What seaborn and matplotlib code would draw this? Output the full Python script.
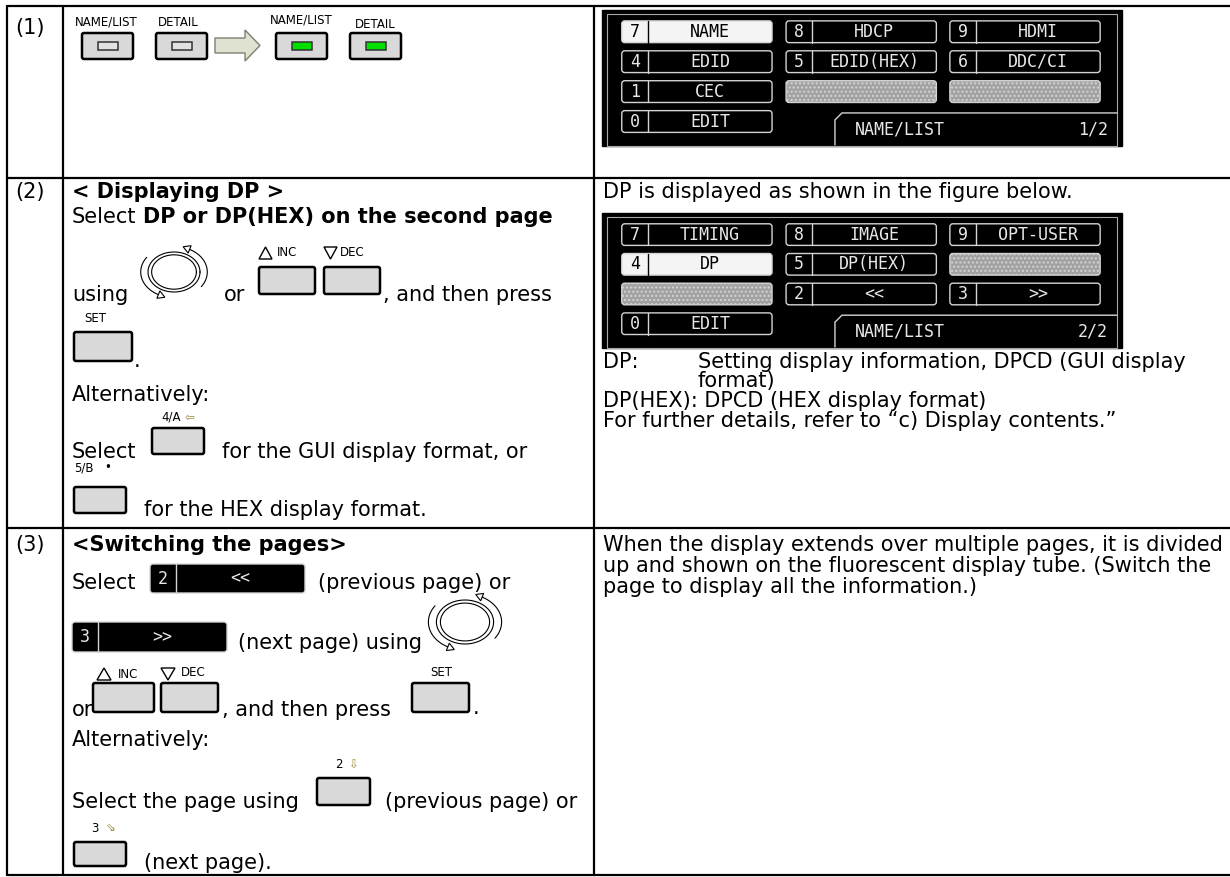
import numpy as np
import matplotlib.pyplot as plt
import seaborn as sns
from matplotlib.patches import Rectangle, FancyBboxPatch, Polygon

sns.set_theme(style="white")
plt.rcParams['font.family'] = ['DejaVu Sans']

# ---- contents ----
row_numbers = ["(1)", "(2)", "(3)"]
key_labels_before = ["NAME/LIST", "DETAIL"]
key_labels_after = ["NAME/LIST", "DETAIL"]
led_off, led_on = "#e2e2e2", "#00e000"

panel1_cells = [[("7", "NAME"), ("8", "HDCP"), ("9", "HDMI")],
                [("4", "EDID"), ("5", "EDID(HEX)"), ("6", "DDC/CI")],
                [("1", "CEC"), None, None],
                [("0", "EDIT")]]
panel1_tab = ["NAME/LIST", "1/2"]
panel1_sel = (0, 0)

panel2_cells = [[("7", "TIMING"), ("8", "IMAGE"), ("9", "OPT-USER")],
                [("4", "DP"), ("5", "DP(HEX)"), None],
                [None, ("2", "<<"), ("3", ">>")],
                [("0", "EDIT")]]
panel2_tab = ["NAME/LIST", "2/2"]
panel2_sel = (1, 0)

row2_right = ["DP is displayed as shown in the figure below.",
              "DP:", "Setting display information, DPCD (GUI display", "format)",
              "DP(HEX): DPCD (HEX display format)",
              "For further details, refer to \u201cc) Display contents.\u201d"]
row3_right = ["When the display extends over multiple pages, it is divided",
              "up and shown on the fluorescent display tube. (Switch the",
              "page to display all the information.)"]

BODY = 15
SMALL = 8.5
LCD = 12

fig = plt.figure(figsize=(12.3, 8.77), dpi=100)
ax = fig.add_axes([0, 0, 1, 1])
ax.set_xlim(0, 1230)
ax.set_ylim(877, 0)
ax.axis('off')
renderer = fig.canvas.get_renderer()


def say(x, y, s, size=BODY, weight='normal', ha='left', color='black', family=None):
    kw = {}
    if family:
        kw['family'] = family
    return ax.text(x, y, s, fontsize=size, fontweight=weight, ha=ha, va='center',
                   color=color, **kw)


def chain(x, y, parts, size=BODY):
    space = 0.318 * size * 100 / 72
    for s, w in parts:
        t = say(x, y, s, size, w)
        x = t.get_window_extent(renderer).x1 + space


def key(x, y, w=52, h=27):
    ax.add_patch(FancyBboxPatch((x, y), w, h, boxstyle='round,pad=0,rounding_size=2',
                                fc='#d9d9d9', ec='black', lw=1.8))


def led(cx, cy, c):
    ax.add_patch(Rectangle((cx - 10, cy - 4), 20, 8, fc=c, ec='#333333', lw=1.1))


def knob(cx, cy, r, sx=1.3):
    t = np.linspace(0, 2 * np.pi, 200)
    for k in (1.0, 0.86):
        ax.plot(cx + sx * r * k * np.cos(t), cy - r * k * np.sin(t), color='black', lw=0.8)
    R = 1.28 * r
    for a0, a1 in ((-35, 62), (145, 242)):
        tt = np.radians(np.linspace(a0, a1, 60))
        ax.plot(cx + sx * R * np.cos(tt), cy - R * np.sin(tt), color='black', lw=0.8)
        e = np.radians(a1)
        px, py = cx + sx * R * np.cos(e), cy - R * np.sin(e)
        dx, dy = -sx * R * np.sin(e), -R * np.cos(e)
        n = np.hypot(dx, dy)
        dx, dy = dx / n, dy / n
        tip = (px + dx * 7, py + dy * 7)
        ax.add_patch(Polygon([tip, (px - dy * 4, py + dx * 4), (px + dy * 4, py - dx * 4)],
                             closed=True, fc='white', ec='black', lw=0.8))


def tri(x, y, w, h, up=True):
    pts = [(x, y + h), (x + w, y + h), (x + w / 2, y)] if up else [(x, y), (x + w, y), (x + w / 2, y + h)]
    ax.add_patch(Polygon(pts, closed=True, fill=False, ec='black', lw=1.0))


def cell(x, y, w, h, item, selected=False, nb=26):
    if item is None:
        ax.add_patch(FancyBboxPatch((x, y), w, h, boxstyle='round,pad=0,rounding_size=3',
                                    fc='#a2a2a2', ec='#d4d4d4', lw=1.0, hatch='....'))
        return
    num, lab = item
    fc = '#f4f4f4' if selected else 'black'
    tc = 'black' if selected else '#e8e8e8'
    ax.add_patch(FancyBboxPatch((x, y), w, h, boxstyle='round,pad=0,rounding_size=3',
                                fc=fc, ec='#d4d4d4', lw=1.0))
    ax.plot([x + nb, x + nb], [y, y + h], color='black' if selected else '#d4d4d4', lw=1.0)
    say(x + nb / 2, y + h / 2, num, LCD, ha='center', color=tc, family='DejaVu Sans Mono')
    say(x + nb + (w - nb) / 2, y + h / 2, lab, LCD, ha='center', color=tc,
        family='DejaVu Sans Mono')


def panel(x0, y0, w, h, cells, sel, tab):
    ax.add_patch(Rectangle((x0, y0), w, h, fc='black', ec='black', lw=1))
    ax.add_patch(Rectangle((x0 + 5, y0 + 4), w - 10, h - 4, fill=False, ec='#a8a8a8', lw=0.8))
    cols = [0.038, 0.354, 0.669]
    rows = [0.08, 0.30, 0.52, 0.74]
    cw, rh = 0.289 * w, 0.16 * h
    for i, row in enumerate(cells):
        for j, item in enumerate(row):
            cell(x0 + cols[j] * w, y0 + rows[i] * h, cw, rh, item, (i, j) == sel)
    tx, ty = x0 + 0.448 * w, y0 + 0.757 * h
    ax.plot([tx, tx, tx + 7, x0 + w - 5], [y0 + h - 1, ty + 7, ty, ty], color='#d4d4d4', lw=1.0)
    say(x0 + 0.487 * w, y0 + 0.875 * h, tab[0], LCD, color='#e8e8e8', family='DejaVu Sans Mono')
    say(x0 + 0.973 * w, y0 + 0.875 * h, tab[1], LCD, ha='right', color='#e8e8e8',
        family='DejaVu Sans Mono')


# ---- table grid ----
for x in (6.5, 63, 594):
    ax.plot([x, x], [6, 875], color='black', lw=1.6)
for y in (6, 178, 528, 875):
    ax.plot([6.5, 1230], [y, y], color='black', lw=1.6)

for y, s in zip((28, 192, 545), row_numbers):
    say(15, y, s)

# ---- row 1 ----
say(75, 22, key_labels_before[0], SMALL)
say(158, 22, key_labels_before[1], SMALL)
say(270, 20, key_labels_after[0], SMALL)
say(355, 24, key_labels_after[1], SMALL)
for x, c in ((82, led_off), (156, led_off), (276, led_on), (350, led_on)):
    key(x, 33, 51, 26)
    led(x + 25.5, 46, c)
ax.add_patch(Polygon([(215, 38), (245, 38), (245, 30), (260, 45.5), (245, 61), (245, 53), (215, 53)],
                     closed=True, fc='#dfe2d0', ec='#7f7f70', lw=1.0))
panel(602, 10, 520, 136, panel1_cells, panel1_sel, panel1_tab)

# ---- row 2 ----
say(72, 192, "< Displaying DP >", weight='bold')
chain(72, 217, [("Select", 'normal'), ("DP or DP(HEX) on the second page", 'bold')])
knob(174, 272, 20)
say(72, 295, "using")
say(224, 295, "or")
tri(259, 247, 13, 12, up=True)
say(277, 253, "INC", SMALL)
tri(324, 247, 13, 12, up=False)
say(340, 252, "DEC", SMALL)
key(259, 267, 56, 27)
key(324, 267, 56, 27)
say(383, 295, ", and then press")
say(95, 319, "SET", SMALL, ha='center')
key(74, 332, 58, 29)
say(134, 361, ".")
say(72, 395, "Alternatively:")
say(161, 417, "4/A", SMALL)
say(185, 417, "\u21e6", SMALL, color='#9a8f3a')
key(152, 428, 52, 26)
say(72, 452, "Select")
say(222, 452, "for the GUI display format, or")
say(74, 468, "5/B", SMALL)
say(104, 468, "\u2022", SMALL)
key(74, 487, 52, 26)
say(144, 510, "for the HEX display format.")

say(603, 192, row2_right[0])
panel(602, 213, 520, 135, panel2_cells, panel2_sel, panel2_tab)
say(603, 362, row2_right[1])
say(698, 362, row2_right[2])
say(698, 381, row2_right[3])
say(603, 401, row2_right[4])
say(603, 421, row2_right[5])

# ---- row 3 ----
say(72, 545, "<Switching the pages>", weight='bold')
say(72, 583, "Select")
cell(150, 564, 155, 29, ("2", "<<"))
say(318, 583, "(previous page) or")
cell(72, 622, 155, 30, ("3", ">>"))
say(238, 643, "(next page) using")
knob(465, 622, 22)
tri(97, 668, 14, 12, up=True)
say(118, 674, "INC", SMALL)
tri(161, 668, 14, 12, up=False)
say(181, 673, "DEC", SMALL)
say(72, 710, "or")
key(93, 683, 61, 29)
key(161, 683, 57, 29)
say(222, 710, ", and then press")
say(441, 672, "SET", SMALL, ha='center')
key(412, 683, 57, 29)
say(473, 708, ".")
say(72, 740, "Alternatively:")
say(335, 765, "2", SMALL)
say(348, 765, "\u21e9", SMALL, color='#9a8f3a')
key(317, 778, 53, 27)
say(72, 802, "Select the page using")
say(385, 802, "(previous page) or")
say(91, 828, "3", SMALL)
say(106, 828, "\u21d8", SMALL, color='#9a8f3a')
key(74, 842, 52, 24)
say(144, 863, "(next page).")

for i, s in enumerate(row3_right):
    say(603, 545 + 21 * i, s)

fig.savefig("out.png", dpi=100, facecolor='white')
